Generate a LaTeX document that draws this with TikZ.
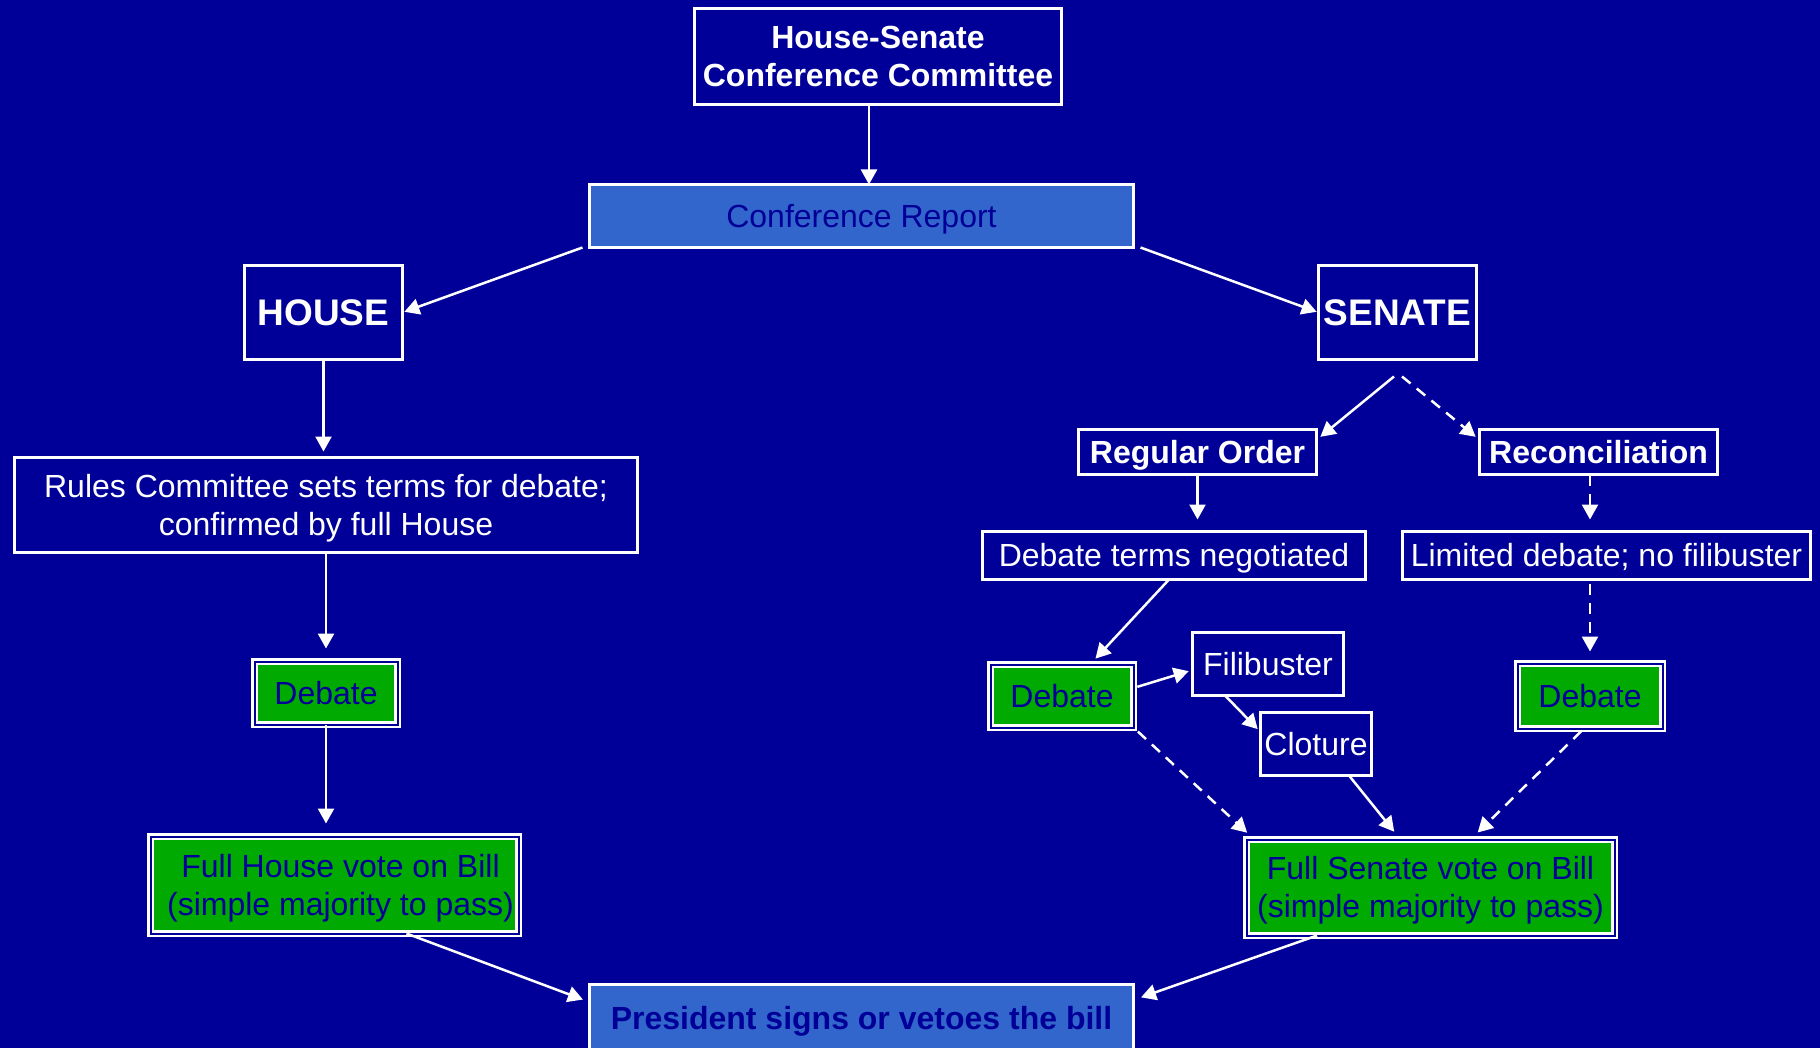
\documentclass[tikz,border=0pt]{standalone}
\usepackage{fontspec}
\setmainfont{Liberation Sans}
\usetikzlibrary{arrows.meta}
\definecolor{bg}{HTML}{000099}
\definecolor{rb}{HTML}{3366CC}
\definecolor{gr}{HTML}{00AA00}
\newcommand\stru{\rule[-0.212em]{0pt}{1.117em}}
\newcommand\fsn{\fontsize{32pt}{38pt}\selectfont}
\newcommand\fsb{\fontsize{37pt}{44pt}\selectfont\bfseries}
\tikzset{
  bx/.style={draw=white, line width=3pt, fill=bg, text=white, inner sep=2pt, outer sep=0pt, align=center, font=\fsn},
  bluebx/.style={bx, fill=rb, text=bg},
  gbx/.style={draw=white, line width=2.5pt, double=bg, double distance=2pt, fill=gr, text=bg, inner sep=2pt, outer sep=0pt, align=center, font=\fsn},
  arr/.style={draw=white, line width=2.5pt, -{Triangle[length=15pt,width=16pt]}},
  darr/.style={arr, dash pattern=on 11pt off 8pt},
}
\begin{document}
\begin{tikzpicture}[x=1pt,y=-1pt]
\useasboundingbox[fill=bg] (0,0) rectangle (1820,1048);
% nodes
\node[bx, minimum width=367pt, minimum height=96pt, font=\fsn\bfseries] (comm) at (878,56.5) {\stru House-Senate\\\stru Conference Committee};
\node[bluebx, minimum width=544pt, minimum height=63pt] (report) at (861.5,216) {\stru Conference Report};
\node[bx, minimum width=158pt, minimum height=94pt, font=\fsb] (house) at (323.5,312.5) {\stru HOUSE};
\node[bx, minimum width=158pt, minimum height=94pt, font=\fsb] (senate) at (1397.5,312.5) {\stru SENATE};
\node[bx, minimum width=623pt, minimum height=95pt] (rules) at (326,505) {\stru Rules Committee sets terms for debate;\\\stru confirmed by full House};
\node[gbx, minimum width=143pt, minimum height=63pt] (hdebate) at (326,693) {\stru Debate};
\node[gbx, minimum width=368pt, minimum height=97pt] (hvote) at (334.5,885) {\hspace*{12pt}\stru Full House vote on Bill\\\hspace*{12pt}\stru (simple majority to pass)};
\node[bluebx, minimum width=544pt, minimum height=67pt, font=\fsn\bfseries] (president) at (861.5,1018) {\stru President signs or vetoes the bill};
\node[bx, minimum width=238pt, minimum height=45pt, font=\fsn\bfseries] (regular) at (1197.5,452) {\stru Regular Order};
\node[bx, minimum width=238pt, minimum height=45pt, font=\fsn\bfseries] (recon) at (1598.5,452) {\stru Reconciliation};
\node[bx, minimum width=383pt, minimum height=48pt] (terms) at (1174,555.5) {\stru Debate terms negotiated};
\node[bx, minimum width=408pt, minimum height=48pt] (limited) at (1606.5,555.5) {\stru Limited debate; no filibuster};
\node[gbx, minimum width=143pt, minimum height=63pt] (sdebate1) at (1062,696) {\stru Debate};
\node[bx, minimum width=151pt, minimum height=63pt] (filib) at (1268,664) {\stru Filibuster};
\node[bx, minimum width=111pt, minimum height=63pt] (cloture) at (1316,744) {\stru Cloture};
\node[gbx, minimum width=145pt, minimum height=65pt] (sdebate2) at (1590,696) {\stru Debate};
\node[gbx, minimum width=368pt, minimum height=96pt] (svote) at (1430.5,887.5) {\stru Full Senate vote on Bill\\\stru (simple majority to pass)};
% connectors
\draw[arr] ([xshift=-9pt]comm.south) -- ([xshift=-9pt]comm.south |- report.north);
\draw[arr, shorten >=2pt] ([xshift=-7pt]report.south west) -- (house.east);
\draw[arr, shorten >=2pt] ([xshift=7pt]report.south east) -- (senate.west);
\draw[arr, shorten >=6pt] (house.south) -- (house.south |- rules.north);
\draw[arr, shorten >=13pt] (rules.south) -- (hdebate.north);
\draw[arr, shorten >=13pt] (hdebate.south) -- (hdebate.south |- hvote.north);
\draw[arr, shorten >=7pt] ([xshift=72pt]hvote.south) -- ([yshift=16pt]president.west);
\draw[arr, shorten >=8pt] ([xshift=-113.5pt]svote.south) -- ([yshift=18pt]president.east);
\draw[arr, shorten >=5pt] ([xshift=-3.5pt,yshift=-17pt]senate.south) -- ([yshift=12pt]regular.east);
\draw[darr, shorten >=5pt] ([xshift=4.5pt,yshift=-17pt]senate.south) -- ([yshift=12pt]recon.west);
\draw[arr, shorten >=12pt] (regular.south) -- (regular.south |- terms.north);
\draw[darr, shorten >=12pt] ([xshift=-8.5pt]recon.south) -- ([xshift=-8.5pt]recon.south |- limited.north);
\draw[darr, shorten <=4pt, shorten >=12pt] (sdebate2.north |- limited.south) -- (sdebate2.north);
\draw[arr, shorten >=8pt] ([xshift=-5pt]terms.south) -- ([xshift=28pt]sdebate1.north);
\draw[arr, shorten <=4pt, shorten >=4pt] ([yshift=8pt]sdebate1.east) -- ([yshift=-6pt]filib.west);
\draw[arr, shorten >=4pt] ([xshift=-43pt]filib.south) -- ([yshift=12pt]cloture.west);
\draw[darr, shorten <=6pt, shorten >=10pt] (sdebate1.south east) -- ([xshift=8pt]svote.north west);
\draw[arr, shorten >=10pt] ([xshift=33pt]cloture.south) -- ([xshift=-30pt]svote.north);
\draw[darr, shorten <=4pt, shorten >=10pt] ([xshift=-6pt]sdebate2.south) -- ([xshift=40pt]svote.north);
\end{tikzpicture}
\end{document}
